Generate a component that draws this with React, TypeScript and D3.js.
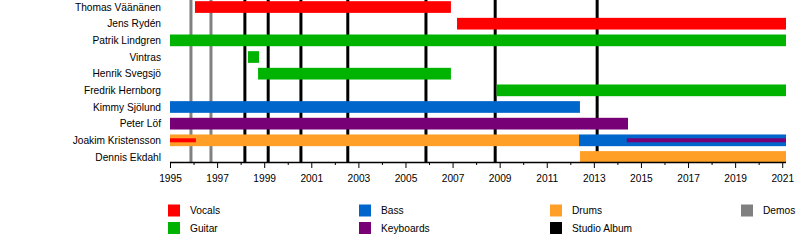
import React, { useEffect, useRef } from "react";
import * as d3 from "d3";

const members = [
  "Thomas Väänänen",
  "Jens Rydén",
  "Patrik Lindgren",
  "Vintras",
  "Henrik Svegsjö",
  "Fredrik Hernborg",
  "Kimmy Sjölund",
  "Peter Löf",
  "Joakim Kristensson",
  "Dennis Ekdahl",
];

const roles = ["Vocals", "Guitar", "Bass", "Keyboards", "Drums", "Studio Album", "Demos"];
const roleColors = ["#ff0000", "#00b300", "#0066cc", "#770077", "#ff9f28", "#000000", "#808080"];

const START = 1995;
const END = 2021.16;

// [member, role, start, end, thin]
const bars: [string, string, number, number, boolean][] = [
  ["Thomas Väänänen", "Vocals", 1996.06, 2006.93, false],
  ["Jens Rydén", "Vocals", 2007.19, END, false],
  ["Patrik Lindgren", "Guitar", 1995, END, false],
  ["Vintras", "Guitar", 1998.31, 1998.78, false],
  ["Henrik Svegsjö", "Guitar", 1998.74, 2006.93, false],
  ["Fredrik Hernborg", "Guitar", 2008.87, END, false],
  ["Kimmy Sjölund", "Bass", 1995, 2012.41, false],
  ["Peter Löf", "Keyboards", 1995, 2014.45, false],
  ["Joakim Kristensson", "Drums", 1995, 2012.37, false],
  ["Joakim Kristensson", "Bass", 2012.37, END, false],
  ["Joakim Kristensson", "Vocals", 1995, 1996.1, true],
  ["Joakim Kristensson", "Keyboards", 2014.4, END, true],
  ["Dennis Ekdahl", "Drums", 2012.41, END, false],
];

const demos = [1995.89, 1996.74];
const albums = [1998.18, 1999.17, 2000.56, 2002.55, 2005.87, 2008.81, 2013.14];

const tickYears = d3.range(1995, 2022);
const labelYears = d3.range(1995, 2022, 2);

const legendRows: [string, string][] = [
  ["Vocals", "Guitar"],
  ["Bass", "Keyboards"],
  ["Drums", "Studio Album"],
  ["Demos", ""],
];

const W = 800;
const H = 242;
const FONT = "'Liberation Sans', Arial, sans-serif";

export default function App() {
  const axisRef = useRef<SVGGElement>(null);
  const x = d3.scaleLinear().domain([START, END]).range([170, 786]);
  const y = d3.scaleBand<string>().domain(members).range([-1.3, 165.3]);
  const color = d3.scaleOrdinal<string, string>().domain(roles).range(roleColors);
  const axisY = 162;

  useEffect(() => {
    if (!axisRef.current) return;
    const g = d3.select(axisRef.current);
    g.selectAll("*").remove();
    const axis = d3
      .axisBottom(x)
      .tickValues(tickYears)
      .tickSize(3)
      .tickSizeOuter(0)
      .tickFormat((d) => (labelYears.includes(d as number) ? String(d) : ""));
    g.call(axis as any);
    g.select(".domain").attr("stroke", "#000").attr("stroke-width", 1.5).attr("d", `M${x(START)},0.5H${x(END)}`);
    g.selectAll(".tick line")
      .attr("stroke", "#000")
      .attr("y2", (d: any) => (labelYears.includes(d) ? 6 : 3));
    g.selectAll(".tick text")
      .attr("y", 13)
      .attr("fill", "#000")
      .attr("font-size", 10.2)
      .attr("font-family", FONT);
  }, []);

  const bandMid = (m: string) => (y(m) as number) + y.bandwidth() / 2;

  return (
    <svg
      width={W}
      height={H}
      style={{ position: "absolute", left: 0, top: 0, background: "#fff" }}
      fontFamily={FONT}
    >
      <rect x={0} y={0} width={W} height={H} fill="#fff" />
      {demos.map((d, i) => (
        <line key={"d" + i} x1={x(d)} x2={x(d)} y1={0} y2={axisY} stroke={color("Demos")} strokeWidth={3} />
      ))}
      {albums.map((d, i) => (
        <line key={"a" + i} x1={x(d)} x2={x(d)} y1={0} y2={axisY} stroke={color("Studio Album")} strokeWidth={3} />
      ))}
      {bars.map(([m, r, s, e, thin], i) => {
        const h = thin ? 4 : 11.7;
        return (
          <rect
            key={"b" + i}
            x={x(s)}
            width={x(e) - x(s)}
            y={bandMid(m) - h / 2}
            height={h}
            fill={color(r)}
          />
        );
      })}
      {members.map((m) => (
        <text key={m} x={161} y={bandMid(m)} dy="0.35em" textAnchor="end" fontSize={10.2} fill="#000">
          {m}
        </text>
      ))}
      <g ref={axisRef} transform={`translate(0,${axisY})`} />
      {legendRows.map((col, ci) =>
        col.map((r, ri) =>
          r ? (
            <g key={r} transform={`translate(${[168, 359, 550, 741][ci]},${204.5 + ri * 17.5})`}>
              <rect x={0} y={0} width={12} height={12} fill={color(r)} />
              <text x={22} y={6} dy="0.35em" fontSize={10.2} fill="#000">
                {r}
              </text>
            </g>
          ) : null
        )
      )}
    </svg>
  );
}
